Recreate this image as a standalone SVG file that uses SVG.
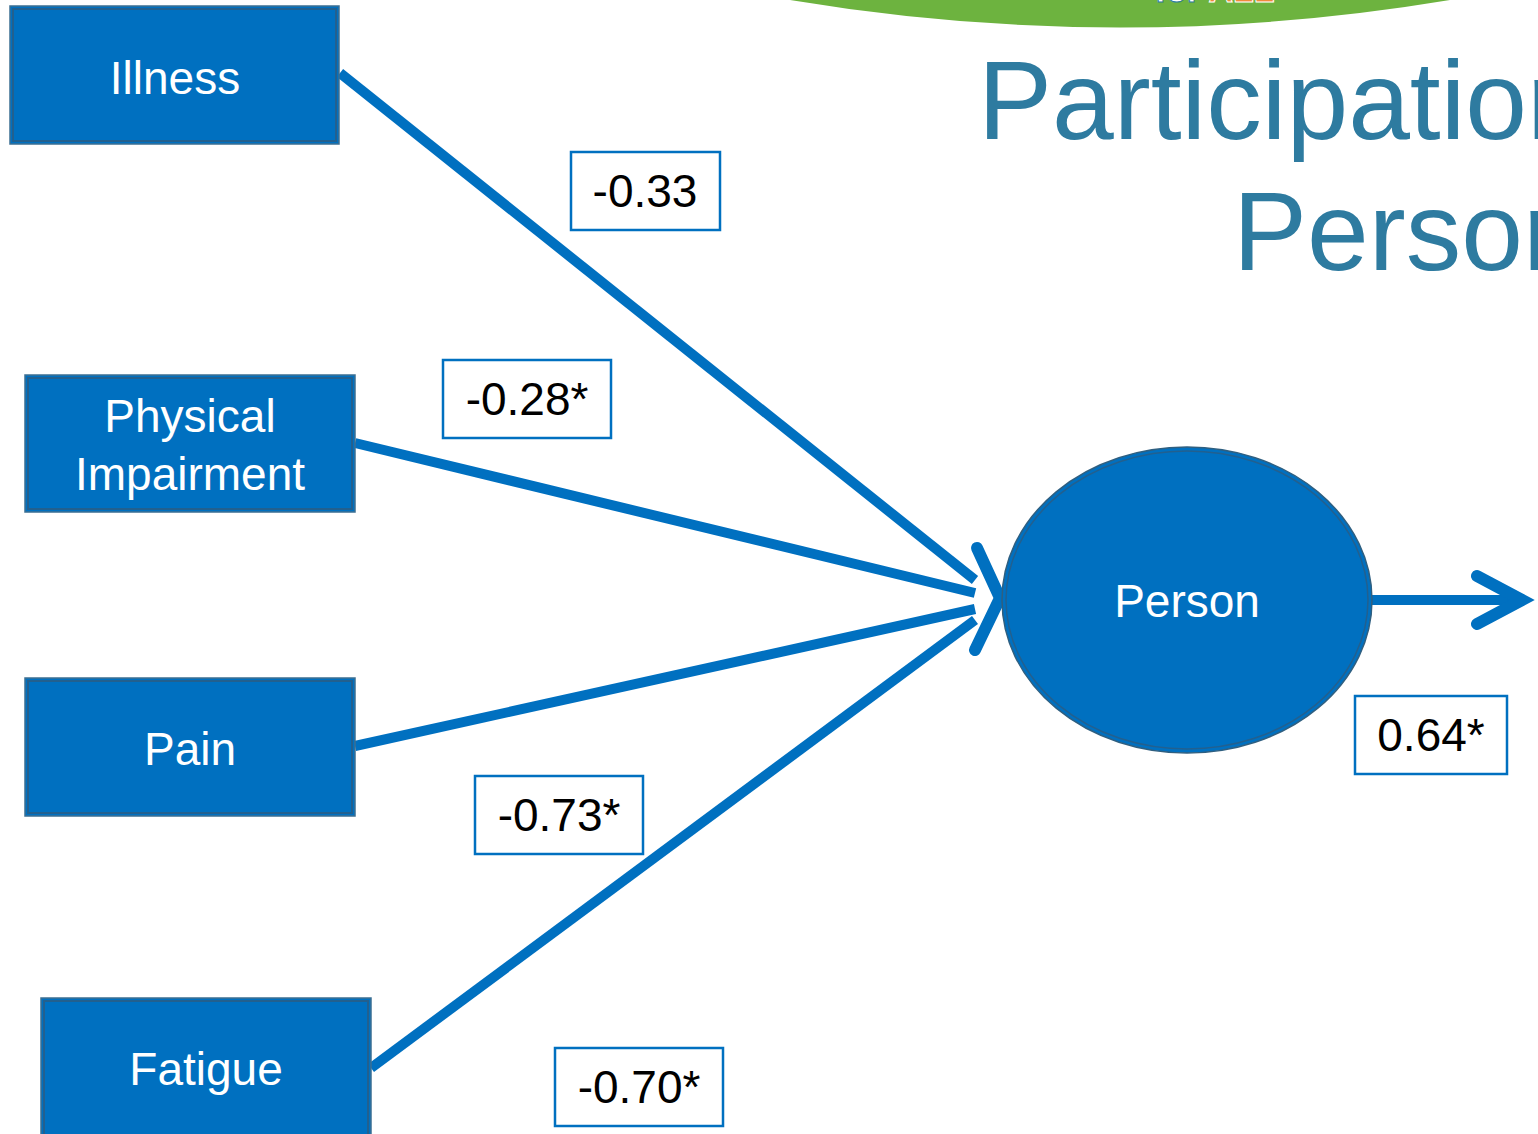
<svg xmlns="http://www.w3.org/2000/svg" width="1538" height="1134" viewBox="0 0 1538 1134">
<style>
.node{fill:#0070C0;stroke:#3b6f93;stroke-width:1.5}
.inner{fill:none;stroke:#22608f;stroke-width:2}
.nt{font-family:"Liberation Sans",Arial,sans-serif;font-size:46px;fill:#ffffff;text-anchor:middle}
.lb{fill:#ffffff;stroke:#0070C0;stroke-width:2.5}
.lt{font-family:"Liberation Sans",Arial,sans-serif;font-size:46px;fill:#000000;text-anchor:middle}
.edge{fill:none;stroke:#0070C0;stroke-width:10}
.head{fill:none;stroke:#0070C0;stroke-width:12;stroke-linecap:round;stroke-linejoin:miter}
.title{font-family:"Liberation Sans",Arial,sans-serif;font-size:111px;fill:#2E7BA0}
</style>
<rect width="1538" height="1134" fill="#ffffff"/>
<g id="banner">
<path d="M790 0 Q1120 55 1450 0 Z" fill="#6DB33F"/>
<text x="1155" y="2" font-family="Liberation Sans,Arial,sans-serif" font-weight="bold" font-size="34" fill="#ffffff" stroke="#2E7BA0" stroke-width="1">for <tspan fill="#F08A3C" stroke="#ffffff">ALL</tspan></text>
</g>
<g id="title">
<text class="title" x="978" y="139">Participation</text>
<text class="title" x="1233" y="270">Person</text>
</g>
<g id="connectors">
<line class="edge" x1="340" y1="73" x2="975" y2="580"/>
<line class="edge" x1="355" y1="443" x2="975" y2="593"/>
<line class="edge" x1="355" y1="746" x2="975" y2="609"/>
<line class="edge" x1="371" y1="1068" x2="975" y2="620"/>
<polyline class="head" points="977,548 1000,598 975,650"/>
<line class="edge" x1="1372" y1="600" x2="1520" y2="600"/>
<polyline class="head" points="1477,576 1522,600 1477,624"/>
</g>
<g id="node-illness">
<rect class="node" x="10" y="6" width="329" height="138"/>
<rect class="inner" x="13" y="9" width="323" height="132"/>
<text class="nt" x="175" y="94">Illness</text>
</g>
<g id="node-physical">
<rect class="node" x="25" y="375" width="330" height="137"/>
<rect class="inner" x="28" y="378" width="324" height="131"/>
<text class="nt" x="190" y="432">Physical</text>
<text class="nt" x="190" y="490">Impairment</text>
</g>
<g id="node-pain">
<rect class="node" x="25" y="678" width="330" height="138"/>
<rect class="inner" x="28" y="681" width="324" height="132"/>
<text class="nt" x="190" y="765">Pain</text>
</g>
<g id="node-fatigue">
<rect class="node" x="41" y="998" width="330" height="150"/>
<rect class="inner" x="44" y="1001" width="324" height="144"/>
<text class="nt" x="206" y="1085">Fatigue</text>
</g>
<g id="node-person">
<ellipse cx="1187" cy="600" rx="185" ry="153" fill="#0070C0" stroke="#2f5f80" stroke-width="1.5"/>
<ellipse cx="1187" cy="600" rx="181" ry="149" fill="none" stroke="#22608f" stroke-width="1.5"/>
<text class="nt" x="1187" y="617">Person</text>
</g>
<g id="label-illness">
<rect class="lb" x="571" y="152" width="149" height="78"/>
<text class="lt" x="645" y="207">-0.33</text>
</g>
<g id="label-physical">
<rect class="lb" x="443" y="360" width="168" height="78"/>
<text class="lt" x="527" y="415">-0.28*</text>
</g>
<g id="label-pain">
<rect class="lb" x="475" y="776" width="168" height="78"/>
<text class="lt" x="559" y="831">-0.73*</text>
</g>
<g id="label-fatigue">
<rect class="lb" x="555" y="1048" width="168" height="78"/>
<text class="lt" x="639" y="1103">-0.70*</text>
</g>
<g id="label-person">
<rect class="lb" x="1355" y="696" width="152" height="78"/>
<text class="lt" x="1431" y="751">0.64*</text>
</g>
</svg>
